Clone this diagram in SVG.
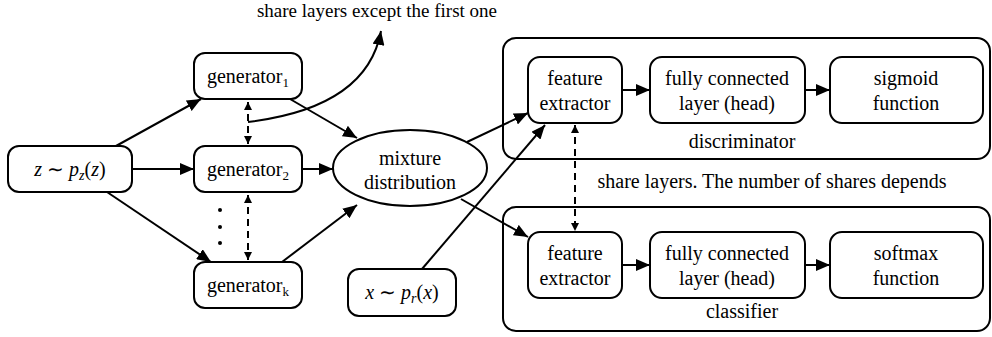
<svg xmlns="http://www.w3.org/2000/svg" width="992" height="337" viewBox="0 0 992 337">
<defs>
<style>
.box{fill:#fff;stroke:#000;stroke-width:2}
.outer{fill:none;stroke:#000;stroke-width:2}
text{font-family:"Liberation Serif",serif;font-size:20px;fill:#000;text-anchor:middle}
.i{font-style:italic}
.ln{fill:none;stroke:#000;stroke-width:2}
.arr{marker-end:url(#ah)}
.dash{fill:none;stroke:#000;stroke-width:2;stroke-dasharray:7,5;marker-start:url(#sh);marker-end:url(#sh)}
</style>
<marker id="ah" viewBox="0 0 14 12" refX="14" refY="6" markerWidth="14" markerHeight="12" markerUnits="userSpaceOnUse" orient="auto-start-reverse">
<path d="M0,0 L14,6 L0,12 z" fill="#000"/>
</marker>
<marker id="sh" viewBox="0 0 8 8" refX="8" refY="4" markerWidth="8" markerHeight="8" markerUnits="userSpaceOnUse" orient="auto-start-reverse">
<path d="M0,0 L8,4 L0,8 z" fill="#000"/>
</marker>
</defs>
<rect width="992" height="337" fill="#fff"/>

<g id="connectors">
<line class="ln arr" x1="116" y1="146" x2="201" y2="99"/>
<line class="ln arr" x1="132" y1="169" x2="194" y2="169"/>
<line class="ln arr" x1="107" y1="192" x2="211" y2="262"/>
<line class="ln arr" x1="290" y1="99" x2="357" y2="138"/>
<line class="ln arr" x1="302" y1="169" x2="333" y2="169"/>
<line class="ln arr" x1="282" y1="262" x2="357" y2="205"/>
<line class="ln arr" x1="467" y1="142" x2="528" y2="113"/>
<line class="ln arr" x1="422" y1="269" x2="545" y2="125"/>
<line class="ln arr" x1="461" y1="199" x2="528" y2="237"/>
<line class="ln arr" x1="622" y1="90" x2="650" y2="90"/>
<line class="ln arr" x1="805" y1="90" x2="830" y2="90"/>
<line class="ln arr" x1="622" y1="265" x2="650" y2="265"/>
<line class="ln arr" x1="805" y1="265" x2="830" y2="265"/>
<line class="dash" x1="248" y1="102" x2="248" y2="144"/>
<line class="dash" x1="248" y1="195" x2="248" y2="260"/>
<line class="dash" x1="575" y1="125" x2="575" y2="231"/>
<path class="ln arr" d="M248,122 C330,112 372,80 381,31"/>
<circle cx="220" cy="210" r="2" fill="#000"/>
<circle cx="220" cy="227" r="2" fill="#000"/>
<circle cx="220" cy="243" r="2" fill="#000"/>
</g>

<text x="377" y="17" style="font-size:19px">share layers except the first one</text>
<text x="772" y="188">share layers. The number of shares depends</text>

<g id="discriminator">
<rect class="outer" x="503" y="38" width="487" height="121" rx="13"/>
<text x="742" y="148">discriminator</text>
</g>
<g id="classifier">
<rect class="outer" x="503" y="207" width="487" height="124" rx="13"/>
<text x="742" y="318">classifier</text>
</g>

<g id="z">
<rect class="box" x="8" y="146" width="124" height="46" rx="11"/>
<text x="70" y="176"><tspan class="i">z</tspan> ∼ <tspan class="i">p</tspan><tspan class="i" style="font-size:14px" dy="4">z</tspan><tspan dy="-4">(</tspan><tspan class="i">z</tspan>)</text>
</g>
<g id="gen1">
<rect class="box" x="194" y="53" width="108" height="46" rx="11"/>
<text x="248" y="83">generator<tspan style="font-size:13px" dy="4">1</tspan></text>
</g>
<g id="gen2">
<rect class="box" x="194" y="146" width="108" height="46" rx="11"/>
<text x="248" y="176">generator<tspan style="font-size:13px" dy="4">2</tspan></text>
</g>
<g id="genk">
<rect class="box" x="194" y="262" width="108" height="46" rx="11"/>
<text x="248" y="292">generator<tspan style="font-size:13px" dy="4">k</tspan></text>
</g>
<g id="mixture">
<ellipse class="box" cx="410" cy="168" rx="77" ry="38"/>
<text x="410" y="165">mixture</text>
<text x="410" y="189">distribution</text>
</g>
<g id="x">
<rect class="box" x="348" y="269" width="108" height="47" rx="11"/>
<text x="402" y="299"><tspan class="i">x</tspan> ∼ <tspan class="i">p</tspan><tspan class="i" style="font-size:14px" dy="4">r</tspan><tspan dy="-4">(</tspan><tspan class="i">x</tspan>)</text>
</g>
<g id="dfe">
<rect class="box" x="528" y="57" width="94" height="66" rx="12"/>
<text x="575" y="85">feature</text>
<text x="575" y="110">extractor</text>
</g>
<g id="dfc">
<rect class="box" x="650" y="57" width="155" height="66" rx="12"/>
<text x="727" y="85">fully connected</text>
<text x="727" y="110">layer (head)</text>
</g>
<g id="sig">
<rect class="box" x="830" y="57" width="153" height="66" rx="12"/>
<text x="906" y="85">sigmoid</text>
<text x="906" y="110">function</text>
</g>
<g id="cfe">
<rect class="box" x="528" y="232" width="94" height="66" rx="12"/>
<text x="575" y="260">feature</text>
<text x="575" y="285">extractor</text>
</g>
<g id="cfc">
<rect class="box" x="650" y="232" width="155" height="66" rx="12"/>
<text x="727" y="260">fully connected</text>
<text x="727" y="285">layer (head)</text>
</g>
<g id="soft">
<rect class="box" x="830" y="232" width="153" height="66" rx="12"/>
<text x="906" y="260">softmax</text>
<text x="906" y="285">function</text>
</g>
</svg>
